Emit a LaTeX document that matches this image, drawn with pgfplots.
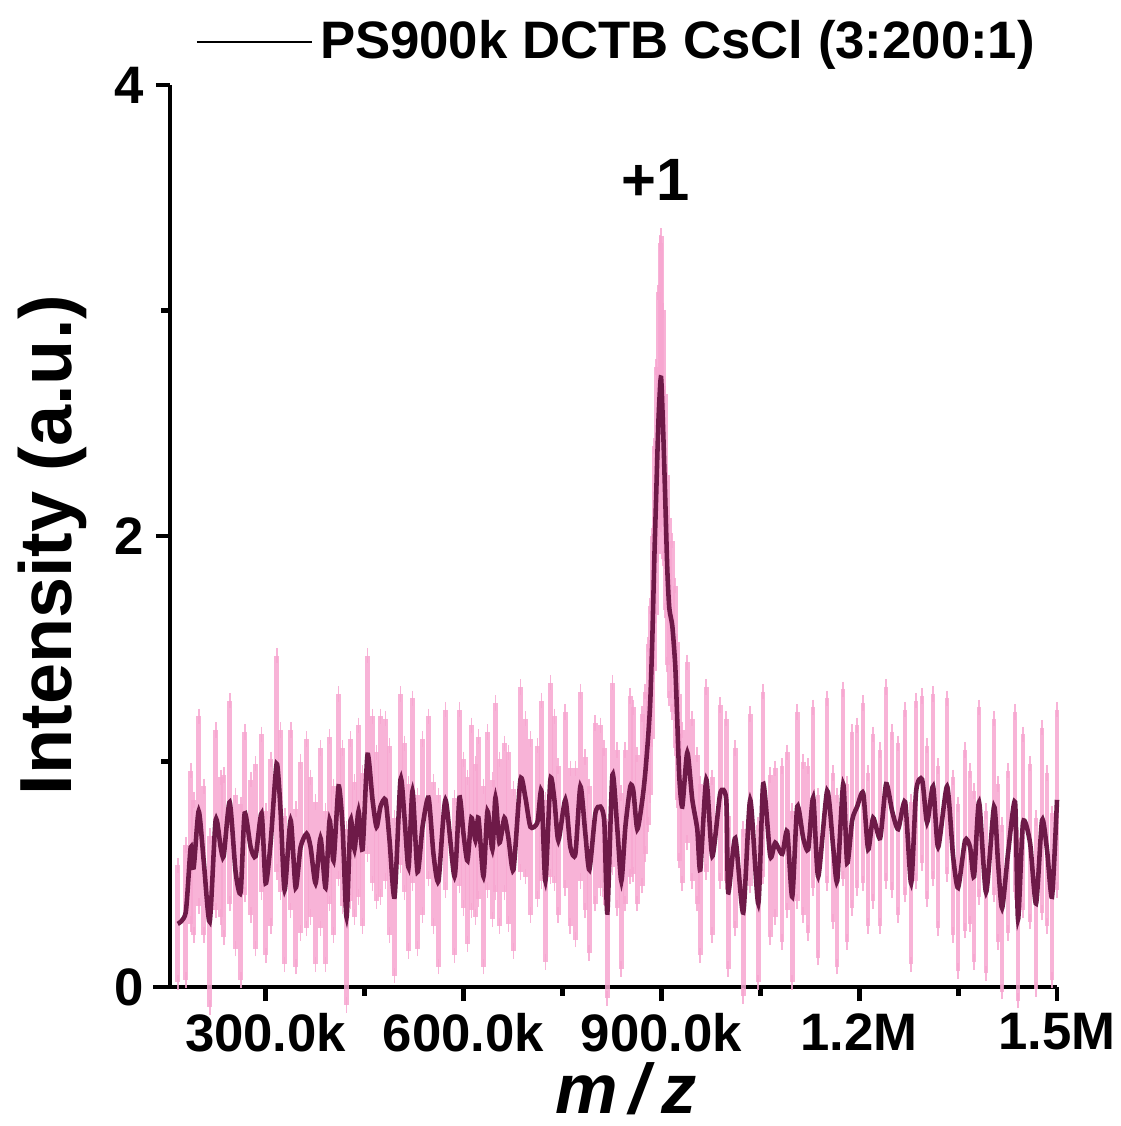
\documentclass[border=0pt]{standalone}
\usepackage{fontspec}
\setmainfont{Liberation Sans}
\usepackage{pgfplots}
\usepackage{pgfplotstable}
\pgfplotsset{compat=1.18}
\usetikzlibrary{calc}
\definecolor{lineC}{HTML}{6E1A48}
\definecolor{pinkC}{HTML}{F7A6D0}

% m/z in thousands, intensity, error
\pgfplotstableread{
x y e
166.7 0.28 0.26
178.8 0.33 0.30
186.4 0.62 0.34
190.9 0.53 0.30
198.5 0.78 0.42
206.1 0.56 0.33
215.2 0.29 0.38
224.2 0.74 0.40
231.8 0.62 0.31
236.4 0.58 0.36
245.5 0.82 0.45
254.5 0.51 0.34
262.1 0.42 0.39
268.2 0.77 0.36
277.3 0.62 0.30
284.8 0.58 0.41
293.9 0.77 0.35
300.0 0.46 0.32
307.6 0.64 0.37
316.7 0.99 0.48
322.7 0.78 0.36
328.8 0.43 0.33
337.9 0.74 0.40
345.5 0.44 0.35
353.0 0.62 0.38
362.1 0.68 0.42
368.2 0.62 0.31
375.8 0.46 0.36
383.3 0.66 0.40
390.9 0.44 0.34
397.0 0.74 0.37
403.0 0.56 0.33
410.6 0.89 0.41
416.7 0.71 0.35
422.7 0.31 0.39
428.8 0.74 0.36
434.8 0.61 0.30
440.9 0.78 0.38
447.0 0.61 0.34
454.5 1.03 0.44
462.1 0.83 0.37
468.2 0.71 0.33
474.2 0.80 0.40
481.8 0.83 0.36
487.9 0.65 0.42
495.5 0.40 0.35
504.5 0.92 0.38
510.6 0.75 0.33
516.7 0.53 0.37
522.7 0.87 0.41
530.3 0.51 0.34
537.9 0.71 0.39
547.0 0.84 0.36
554.5 0.59 0.32
562.1 0.47 0.38
572.7 0.83 0.40
586.4 0.49 0.35
593.9 0.84 0.39
600.0 0.68 0.33
606.1 0.56 0.37
612.1 0.75 0.41
618.2 0.65 0.34
622.7 0.75 0.36
630.3 0.49 0.40
636.4 0.78 0.35
643.9 0.61 0.31
648.5 0.84 0.42
654.5 0.64 0.37
662.1 0.75 0.33
668.2 0.66 0.38
675.8 0.52 0.36
686.4 0.92 0.41
693.9 0.84 0.35
701.5 0.71 0.39
712.1 0.73 0.34
718.2 0.87 0.40
724.2 0.47 0.36
731.8 0.92 0.43
737.9 0.83 0.37
743.9 0.65 0.33
754.5 0.83 0.39
762.1 0.62 0.35
769.7 0.59 0.38
777.3 0.89 0.42
784.8 0.68 0.34
790.9 0.52 0.37
800.0 0.77 0.40
807.6 0.80 0.36
813.6 0.73 0.33
818.2 0.33 0.38
825.8 0.94 0.41
833.3 0.70 0.35
839.4 0.47 0.39
845.5 0.71 0.34
853.0 0.89 0.40
857.6 0.87 0.37
863.6 0.70 0.33
871.2 0.83 0.38
875.7 0.95 0.36
880.3 1.12 0.40
883.3 1.27 0.42
886.4 1.55 0.45
889.4 1.90 0.50
892.4 2.20 0.55
895.5 2.50 0.58
898.5 2.68 0.62
900.0 2.69 0.64
903.0 2.45 0.55
906.1 2.15 0.48
909.1 1.85 0.42
912.1 1.68 0.40
916.7 1.60 0.38
921.2 1.42 0.36
924.2 1.18 0.35
927.3 0.93 0.37
931.8 0.80 0.34
939.4 1.04 0.40
947.0 0.83 0.36
954.5 0.70 0.33
959.1 0.52 0.38
968.2 0.92 0.41
977.3 0.58 0.35
989.4 0.86 0.39
998.5 0.83 0.36
1001.5 0.42 0.34
1012.1 0.66 0.40
1024.2 0.33 0.37
1034.8 0.83 0.38
1047.0 0.37 0.35
1054.5 0.90 0.41
1065.2 0.58 0.36
1072.7 0.64 0.33
1083.3 0.59 0.39
1090.9 0.69 0.35
1098.5 0.40 0.38
1106.1 0.80 0.42
1115.2 0.66 0.34
1122.7 0.61 0.37
1130.3 0.84 0.40
1137.9 0.49 0.36
1151.5 0.87 0.41
1160.6 0.62 0.33
1166.7 0.47 0.38
1175.8 0.90 0.42
1181.8 0.55 0.35
1189.4 0.74 0.39
1197.0 0.80 0.36
1206.1 0.86 0.40
1213.6 0.61 0.34
1221.2 0.75 0.37
1231.8 0.66 0.39
1240.9 0.90 0.43
1250.0 0.78 0.35
1259.1 0.70 0.38
1269.7 0.82 0.41
1278.8 0.46 0.36
1286.4 0.87 0.40
1295.5 0.92 0.37
1303.0 0.73 0.34
1312.1 0.89 0.41
1319.7 0.62 0.36
1333.3 0.89 0.39
1342.4 0.58 0.35
1350.0 0.44 0.37
1360.6 0.65 0.40
1368.2 0.62 0.34
1374.2 0.49 0.38
1381.8 0.82 0.42
1392.4 0.42 0.36
1404.5 0.80 0.39
1410.6 0.55 0.35
1416.7 0.35 0.37
1426.0 0.60 0.36
1436.4 0.82 0.40
1440.9 0.30 0.36
1448.5 0.73 0.39
1459.1 0.64 0.35
1468.2 0.37 0.38
1477.3 0.74 0.41
1484.8 0.61 0.34
1492.4 0.40 0.37
1500.0 0.83 0.40
}\spec

\begin{document}
\begin{tikzpicture}
\begin{axis}[
    scale only axis, width=8.87cm, height=9.02cm,
    xmin=155, xmax=1500, ymin=0, ymax=4,
    axis lines*=left,
    axis line style={line width=1.4pt},
    x axis line style={shorten <=-0.17cm},
    tick align=outside,
    major tick length=4pt, minor tick length=2.5pt,
    every tick/.style={black, line width=1.4pt},
    xtick={300,600,900,1200,1500},
    xticklabels={300.0k,600.0k,900.0k,1.2M,1.5M},
    minor xtick={450,750,1050,1350},
    ytick={0,2,4}, yticklabels={0,2,4},
    minor ytick={1,3},
    tick label style={font=\fontsize{15}{18}\selectfont\bfseries},
    xlabel={\textit{m\,/\,z}},
    xlabel style={font=\fontsize{20}{24}\selectfont\bfseries, at={(axis description cs:0.514,-0.113)}, anchor=center},
    ylabel={Intensity (a.u.)},
    ylabel style={font=\fontsize{21}{25}\selectfont\bfseries, at={(axis description cs:-0.133,0.49)}, anchor=center},
    legend style={at={(axis description cs:0.028,1.0477)}, anchor=west, draw=none, fill=none,
        font=\fontsize{15}{18}\selectfont\bfseries, inner sep=0pt},
    legend image code/.code={\draw[black, line width=0.7pt] (0cm,0cm) -- (1.15cm,0cm);},
    clip=false,
]
\coordinate (O) at (rel axis cs:0,0);
\addplot[forget plot, draw=none, mark=none,
    error bars/.cd, y dir=both, y explicit,
    error bar style={draw=pinkC, line width=1.3pt, solid, opacity=0.85},
    error mark options={draw=pinkC, line width=0.5pt, mark size=2.2pt, opacity=0.85}]
    table[x=x, y=y, y error=e] {\spec};
\addplot[lineC, line width=1.3pt, smooth, tension=0.4, mark=none] table[x=x, y=y] {\spec};
\addlegendentry{PS900k DCTB CsCl (3:200:1)}
\node[font=\fontsize{17}{20}\selectfont\bfseries] at (axis cs:891,3.58) {+1};
\end{axis}
\pgfresetboundingbox
\path ($(O)+(-1.70cm,-1.39cm)$) rectangle ++(11.21cm,11.26cm);
\end{tikzpicture}
\end{document}
